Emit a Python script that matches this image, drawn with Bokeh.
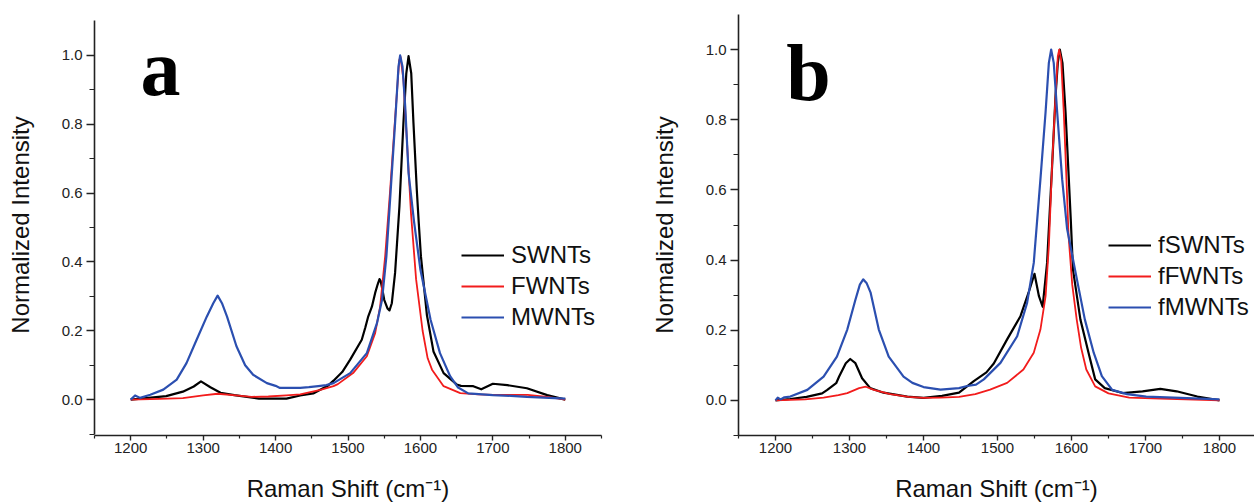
from bokeh.plotting import figure
from bokeh.models import Range1d, FixedTicker, NumeralTickFormatter, Legend, LegendItem, Label
from bokeh.layouts import row
from bokeh.embed import file_html
from bokeh.resources import INLINE

# ---------------- Panel a data ----------------
a_swnt_x = [1200, 1249, 1272, 1287, 1297, 1310, 1324, 1343, 1377, 1415, 1434, 1452, 1472, 1480, 1492,
            1503, 1519, 1524, 1528, 1533, 1537.5, 1541, 1543.5, 1545, 1547, 1550, 1554.5, 1557.3, 1560.5,
            1565, 1571, 1576.5, 1580.5, 1583.6, 1587.3, 1590.4, 1595, 1597.5, 1600.7, 1609, 1618, 1632,
            1650, 1656, 1673, 1684, 1700, 1720, 1747, 1775, 1800]
a_swnt_y = [0.0, 0.010, 0.023, 0.038, 0.053, 0.036, 0.020, 0.013, 0.003, 0.003, 0.012, 0.018, 0.040, 0.055, 0.080,
            0.116, 0.174, 0.210, 0.242, 0.270, 0.310, 0.335, 0.350, 0.345, 0.325, 0.290, 0.265, 0.259, 0.280,
            0.368, 0.561, 0.803, 0.948, 0.998, 0.948, 0.803, 0.609, 0.520, 0.416, 0.245, 0.140, 0.077,
            0.044, 0.040, 0.039, 0.030, 0.046, 0.042, 0.033, 0.013, 0.0]

a_fwnt_x = [1200, 1240, 1272, 1300, 1320, 1345, 1367, 1390, 1415, 1434, 1462, 1480, 1486, 1507, 1526,
            1537.5, 1544.4, 1551.3, 1558.2, 1565.2, 1570.7, 1572.5, 1576.6, 1581.3, 1587, 1594, 1603,
            1610, 1616, 1632, 1655, 1680, 1700, 1748, 1775, 1800]
a_fwnt_y = [0.0, 0.002, 0.004, 0.012, 0.017, 0.012, 0.008, 0.009, 0.012, 0.015, 0.028, 0.039, 0.045, 0.077, 0.126,
            0.193, 0.271, 0.416, 0.609, 0.822, 0.986, 0.996, 0.928, 0.754, 0.540, 0.350, 0.200,
            0.120, 0.087, 0.039, 0.019, 0.015, 0.014, 0.014, 0.008, 0.0]

a_mwnt_x = [1200, 1206, 1213, 1227, 1245, 1263.5, 1277, 1291, 1305, 1314, 1320, 1326, 1333, 1346, 1358,
            1369, 1388, 1400, 1406, 1420, 1434, 1446, 1459, 1470, 1480, 1503, 1526, 1540, 1547, 1553,
            1559, 1565, 1569.7, 1572, 1575.3, 1579, 1583.6, 1591, 1600, 1614, 1627, 1641, 1652, 1666,
            1700, 1725, 1747, 1770, 1800]
a_mwnt_y = [0.0, 0.012, 0.005, 0.014, 0.029, 0.058, 0.106, 0.174, 0.241, 0.280, 0.302, 0.280, 0.241, 0.155, 0.100,
            0.072, 0.048, 0.040, 0.034, 0.034, 0.034, 0.036, 0.039, 0.042, 0.048, 0.077, 0.135, 0.222, 0.290, 0.416,
            0.609, 0.803, 0.967, 1.0, 0.967, 0.851, 0.658, 0.520, 0.377, 0.232, 0.135, 0.068, 0.035, 0.018,
            0.013, 0.011, 0.008, 0.006, 0.003]

# ---------------- Panel b data ----------------
b_swnt_x = [1200, 1220, 1242, 1263, 1270, 1282, 1286, 1295, 1301, 1308, 1317, 1328, 1346, 1378, 1400, 1425,
            1448, 1468, 1485, 1495, 1513, 1531, 1542, 1550, 1556, 1561, 1567, 1574, 1578.4, 1581.5, 1584.2,
            1587.8, 1592, 1596.4, 1599, 1602, 1612, 1623, 1632, 1645, 1669, 1696, 1720, 1742, 1770, 1800]
b_swnt_y = [0.0, 0.004, 0.010, 0.020, 0.030, 0.049, 0.068, 0.106, 0.118, 0.106, 0.063, 0.035, 0.022, 0.011, 0.007, 0.013,
            0.022, 0.055, 0.080, 0.105, 0.174, 0.240, 0.307, 0.361, 0.297, 0.267, 0.392, 0.677, 0.867, 0.962, 1.0,
            0.962, 0.820, 0.630, 0.516, 0.373, 0.231, 0.136, 0.060, 0.035, 0.021, 0.026, 0.033, 0.026, 0.011, 0.0]

b_fwnt_x = [1200, 1240, 1265, 1285, 1297, 1313, 1322, 1333, 1355, 1380, 1400, 1423, 1448, 1470, 1490, 1513,
            1535, 1549, 1558, 1565, 1569.4, 1573.9, 1578.4, 1581.5, 1583.4, 1586, 1589.6, 1593.2, 1596, 1601,
            1607, 1613, 1620, 1632, 1650, 1678, 1720, 1800]
b_fwnt_y = [0.0, 0.003, 0.008, 0.015, 0.021, 0.035, 0.039, 0.030, 0.018, 0.010, 0.007, 0.008, 0.010, 0.018, 0.031, 0.050,
            0.088, 0.136, 0.202, 0.297, 0.440, 0.677, 0.867, 0.981, 1.0, 0.971, 0.820, 0.630, 0.470, 0.330,
            0.231, 0.150, 0.088, 0.040, 0.020, 0.008, 0.005, 0.0]

b_mwnt_x = [1200, 1203, 1207, 1212, 1220, 1243, 1265, 1283, 1297, 1308, 1314, 1318.5, 1323, 1328.4, 1339.6, 1353,
            1373, 1385, 1400, 1423, 1448, 1459, 1471, 1481.5, 1504, 1526.6, 1540, 1549, 1558, 1564.9, 1569.4,
            1572.5, 1576, 1580.7, 1587.4, 1594, 1605, 1618, 1630, 1641, 1655, 1675, 1701, 1747, 1800]
b_mwnt_y = [0.0, 0.008, 0.003, 0.009, 0.011, 0.030, 0.068, 0.125, 0.202, 0.287, 0.330, 0.345, 0.335, 0.308, 0.202, 0.125,
            0.068, 0.050, 0.038, 0.031, 0.035, 0.041, 0.045, 0.060, 0.107, 0.183, 0.278, 0.392, 0.630, 0.820, 0.962,
            1.0, 0.962, 0.820, 0.630, 0.490, 0.370, 0.231, 0.136, 0.069, 0.030, 0.018, 0.011, 0.007, 0.003]

# ---------------- Labels / ticks ----------------
x_major = [1200, 1300, 1400, 1500, 1600, 1700, 1800]
x_minor = [1150, 1250, 1350, 1450, 1550, 1650, 1750, 1850]
y_major = [0.0, 0.2, 0.4, 0.6, 0.8, 1.0]
y_minor = [-0.1, 0.1, 0.3, 0.5, 0.7, 0.9]
x_title = "Raman Shift (cm\u207b\u00b9)"
y_title = "Normalized Intensity"
names_a = ["SWNTs", "FWNTs", "MWNTs"]
names_b = ["fSWNTs", "fFWNTs", "fMWNTs"]
colors = ["#000000", "#f21c1c", "#2b4fb0"]
widths = [2.2, 1.8, 2.2]

FONT = "Liberation Sans"


def make_panel(width, mb_left, mb_right, x_end, y_start, y_end, xs, ys, names, leg_loc,
               letter, letter_x, letter_y):
    p = figure(width=width, height=504, output_backend="svg", toolbar_location=None,
               x_range=Range1d(1150, x_end), y_range=Range1d(y_start, y_end),
               min_border_left=mb_left, min_border_right=mb_right,
               min_border_top=14, min_border_bottom=68)
    p.outline_line_color = None
    p.xgrid.visible = False
    p.ygrid.visible = False
    p.background_fill_color = "white"

    xa = p.xaxis[0]
    xa.ticker = FixedTicker(ticks=x_major, minor_ticks=x_minor)
    xa.major_tick_in = 0
    xa.major_tick_out = 5
    xa.minor_tick_in = 0
    xa.minor_tick_out = 3
    xa.major_label_standoff = 2
    xa.major_label_text_font = FONT
    xa.major_label_text_font_size = "15px"
    xa.major_label_text_color = "#222222"
    xa.axis_label = x_title
    xa.axis_label_text_font = FONT
    xa.axis_label_text_font_size = "24px"
    xa.axis_label_text_font_style = "normal"
    xa.axis_label_text_color = "#111111"
    xa.axis_label_standoff = 19
    xa.axis_line_width = 1.6
    xa.major_tick_line_width = 1.4
    xa.minor_tick_line_width = 1.2
    xa.axis_line_color = "#222222"
    xa.major_tick_line_color = "#222222"
    xa.minor_tick_line_color = "#222222"

    ya = p.yaxis[0]
    ya.ticker = FixedTicker(ticks=y_major, minor_ticks=y_minor)
    ya.formatter = NumeralTickFormatter(format="0.0")
    ya.bounds = (-0.1, 1.1)
    ya.major_tick_in = 0
    ya.major_tick_out = 8
    ya.minor_tick_in = 0
    ya.minor_tick_out = 5
    ya.major_label_standoff = 4
    ya.major_label_text_font = FONT
    ya.major_label_text_font_size = "15px"
    ya.major_label_text_color = "#222222"
    ya.axis_label = y_title
    ya.axis_label_text_font = FONT
    ya.axis_label_text_font_size = "24px"
    ya.axis_label_text_font_style = "normal"
    ya.axis_label_text_color = "#111111"
    ya.axis_label_standoff = 25
    ya.axis_line_width = 1.6
    ya.major_tick_line_width = 1.4
    ya.minor_tick_line_width = 1.2
    ya.axis_line_color = "#222222"
    ya.major_tick_line_color = "#222222"
    ya.minor_tick_line_color = "#222222"

    items = []
    for x, y, name, c, w in zip(xs, ys, names, colors, widths):
        r = p.line(x, y, line_color=c, line_width=w, line_join="round")
        items.append(LegendItem(label=name, renderers=[r]))

    leg = Legend(items=items, location=leg_loc, border_line_color=None,
                 background_fill_alpha=0, padding=0, margin=0, spacing=3,
                 glyph_width=43, glyph_height=28, label_height=28, label_standoff=7,
                 label_text_font=FONT, label_text_font_size="24px", label_text_color="#111111")
    p.add_layout(leg)

    lab = Label(x=letter_x, y=letter_y, text=letter, text_font="Liberation Serif",
                text_font_style="bold", text_font_size="80px", text_color="#000000",
                text_baseline="alphabetic", text_align="left")
    p.add_layout(lab)
    return p


pa = make_panel(636, 94, 35, 1850, -0.1043, 1.1188,
                [a_swnt_x, a_fwnt_x, a_mwnt_x], [a_swnt_y, a_fwnt_y, a_mwnt_y],
                names_a, (367, 104), "a", 1213.5, 0.962)
pb = make_panel(618, 102, 0, 1847.3, -0.1, 1.1,
                [b_swnt_x, b_fwnt_x, b_mwnt_x], [b_swnt_y, b_fwnt_y, b_mwnt_y],
                names_b, (370, 114), "b", 1214.6, 0.934)

layout = row(pa, pb)
open("out.html", "w").write(file_html(layout, INLINE))
